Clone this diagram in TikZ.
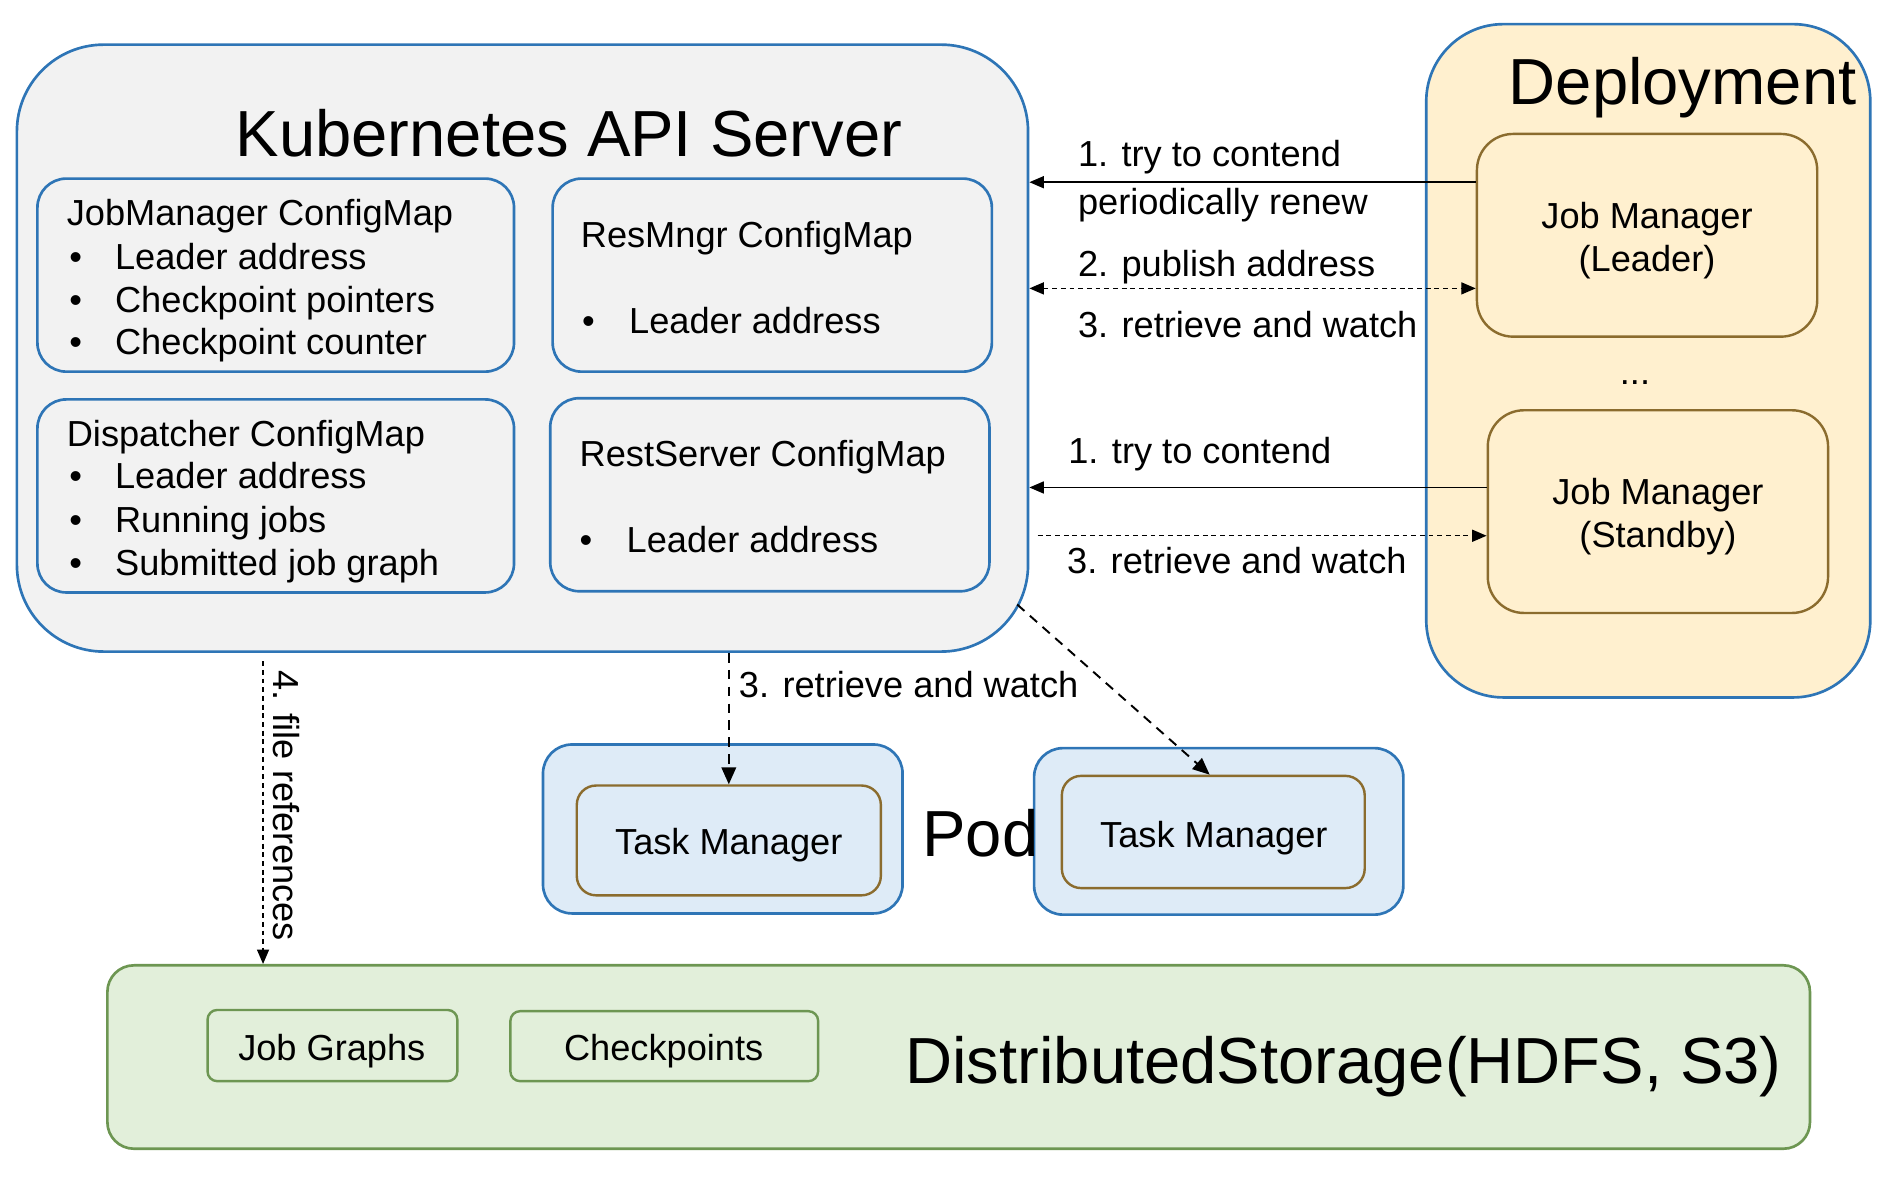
\documentclass[tikz,border=0pt]{standalone}
\usepackage{fontspec}
\setmainfont{Liberation Sans}
\usetikzlibrary{fit,arrows.meta,calc}
\definecolor{kblue}{HTML}{2E75B6}
\definecolor{kgray}{HTML}{F2F2F2}
\definecolor{dyellow}{HTML}{FFF0CF}
\definecolor{jmbrown}{HTML}{8B6C2E}
\definecolor{podblue}{HTML}{DEEBF7}
\definecolor{sgreen}{HTML}{E2EFDA}
\definecolor{sgreenb}{HTML}{6D9652}
\begin{document}
\begin{tikzpicture}[x=0.5pt,y=-0.5pt,
  apibox/.style={draw=kblue,line width=1.1pt,fill=kgray,rounded corners=36pt,inner sep=0pt},
  cmbox/.style={draw=kblue,line width=1.1pt,fill=kgray,rounded corners=12pt,inner sep=0pt},
  depbox/.style={draw=kblue,line width=1.1pt,fill=dyellow,rounded corners=32pt,inner sep=0pt},
  jmbox/.style={draw=jmbrown,line width=1pt,fill=dyellow,rounded corners=15pt,inner sep=0pt},
  podbox/.style={draw=kblue,line width=1.1pt,fill=podblue,rounded corners=12pt,inner sep=0pt},
  tmbox/.style={draw=jmbrown,line width=1pt,fill=podblue,rounded corners=8pt,inner sep=0pt},
  stbox/.style={draw=sgreenb,line width=1.1pt,fill=sgreen,rounded corners=11pt,inner sep=0pt},
  smbox/.style={draw=sgreenb,line width=1pt,fill=sgreen,rounded corners=4pt,inner sep=0pt},
  txt/.style={inner sep=0pt,font=\fontsize{15}{18}\selectfont},
  big/.style={inner sep=0pt,font=\fontsize{27}{32}\selectfont},
  solidarr/.style={line width=0.6pt,-{Triangle[length=6pt,width=5pt]}},
  finedash/.style={line width=0.6pt,dash pattern=on 2pt off 1.6pt},
  longdash/.style={line width=0.8pt,dash pattern=on 4pt off 3pt,-{Triangle[length=7pt,width=6pt]}},
  tip/.style={-{Triangle[length=6pt,width=5pt]}}
]
\useasboundingbox (0,0) rectangle (1568,996);

% ---------- Kubernetes API server ----------
\node[apibox,fit={(14,37) (852,540)}] (api) {};
\node[big,anchor=base west] (apititle) at (195,130) {Kubernetes API Server};

\node[cmbox,fit={(31,148) (426,308)}] (cmjm) {};
\node[cmbox,fit={(458,148) (822,308)}] (cmrm) {};
\node[cmbox,fit={(31,331) (426,491)}] (cmd) {};
\node[cmbox,fit={(456,330) (820,490)}] (cmrs) {};

\node[txt,anchor=base west] (jm0) at (55,187) {JobManager ConfigMap};
\node[txt,anchor=base west] (jmb1) at (57,223) {•};
\node[txt,anchor=base west] (jm1) at (95,223) {Leader address};
\node[txt,anchor=base west] (jmb2) at (57,259) {•};
\node[txt,anchor=base west] (jm2) at (95,259) {Checkpoint pointers};
\node[txt,anchor=base west] (jmb3) at (57,294) {•};
\node[txt,anchor=base west] (jm3) at (95,294) {Checkpoint counter};

\node[txt,anchor=base west] (rm0) at (481,205) {ResMngr ConfigMap};
\node[txt,anchor=base west] (rmb1) at (482,276) {•};
\node[txt,anchor=base west] (rm1) at (521,276) {Leader address};

\node[txt,anchor=base west] (d0) at (55,370) {Dispatcher ConfigMap};
\node[txt,anchor=base west] (db1) at (57,405) {•};
\node[txt,anchor=base west] (d1) at (95,405) {Leader address};
\node[txt,anchor=base west] (db2) at (57,441) {•};
\node[txt,anchor=base west] (d2) at (95,441) {Running jobs};
\node[txt,anchor=base west] (db3) at (57,477) {•};
\node[txt,anchor=base west] (d3) at (95,477) {Submitted job graph};

\node[txt,anchor=base west] (rs0) at (480,387) {RestServer ConfigMap};
\node[txt,anchor=base west] (rsb1) at (480,458) {•};
\node[txt,anchor=base west] (rs1) at (519,458) {Leader address};

% ---------- Deployment ----------
\node[depbox,fit={(1182,20) (1550,578)}] (dep) {};
\node[big,anchor=base west] (deptitle) at (1250,87) {Deployment};
\node[jmbox,fit={(1224,111) (1506,279)}] (jml) {};
\node[txt,anchor=base] (jml1) at (1365,189) {Job Manager};
\node[txt,anchor=base] (jml2) at (1365,225) {(Leader)};
\node[txt,anchor=base] (dots) at (1355,319) {...};
\node[jmbox,fit={(1233,340) (1515,508)}] (jms) {};
\node[txt,anchor=base] (jms1) at (1374,418) {Job Manager};
\node[txt,anchor=base] (jms2) at (1374,454) {(Standby)};

% ---------- Pods ----------
\node[podbox,fit={(450,617) (748,757)}] (podl) {};
\node[tmbox,fit={(478,651) (730,742)}] (tml) {};
\node[txt,anchor=base] (tmltext) at (604,708) {Task Manager};
\node[podbox,fit={(857,620) (1163,758)}] (podr) {};
\node[tmbox,fit={(880,643) (1131,736)}] (tmr) {};
\node[txt,anchor=base] (tmrtext) at (1006,702) {Task Manager};
\node[big,anchor=base west] (podtext) at (764,710) {Pod};

% ---------- Storage ----------
\node[stbox,fit={(89,800) (1500,952)}] (st) {};
\node[smbox,fit={(172,837) (379,896)}] (jg) {};
\node[txt,anchor=base] (jgtext) at (275,879) {Job Graphs};
\node[smbox,fit={(423,838) (678,896)}] (cp) {};
\node[txt,anchor=base] (cptext) at (550,879) {Checkpoints};
\node[big,anchor=base west] (sttext) at (750,898) {DistributedStorage(HDFS, S3)};

% ---------- Connectors ----------
\coordinate (ya) at (0,151);
\coordinate (yb) at (0,239);
\coordinate (yc) at (0,404);
\coordinate (yd) at (860,444);
\coordinate (diagS) at (843,501);
\coordinate (frS) at (218,548);

\draw[solidarr] (jml.west |- ya) -- (api.east |- ya);
\draw[finedash,{Triangle[length=6pt,width=5pt]}-{Triangle[length=6pt,width=5pt]}] (api.east |- yb) -- (jml.west |- yb);
\draw[solidarr] (jms.west |- yc) -- (api.east |- yc);
\draw[finedash,tip] (yd) -- (jms.west |- yd);
\draw[longdash] (tml.north |- api.south) -- (tml.north);
\draw[longdash] (diagS) -- ($(tmr.north)+(-3,0)$);
\draw[finedash,tip] (frS) -- (frS |- st.north);

% ---------- Labels ----------
\node[txt,anchor=base west] (l1) at (893,138) {1. try to contend};
\node[txt,anchor=base west] (l2) at (893,178) {periodically renew};
\node[txt,anchor=base west] (l3) at (893,229) {2. publish address};
\node[txt,anchor=base west] (l4) at (893,280) {3. retrieve and watch};
\node[txt,anchor=base west] (l5) at (885,384) {1. try to contend};
\node[txt,anchor=base west] (l6) at (884,475) {3. retrieve and watch};
\node[txt,anchor=base west] (l7) at (612,578) {3. retrieve and watch};
\node[txt,anchor=base west,rotate=-90] (l8) at (227,555) {4. file references};
\end{tikzpicture}
\end{document}
